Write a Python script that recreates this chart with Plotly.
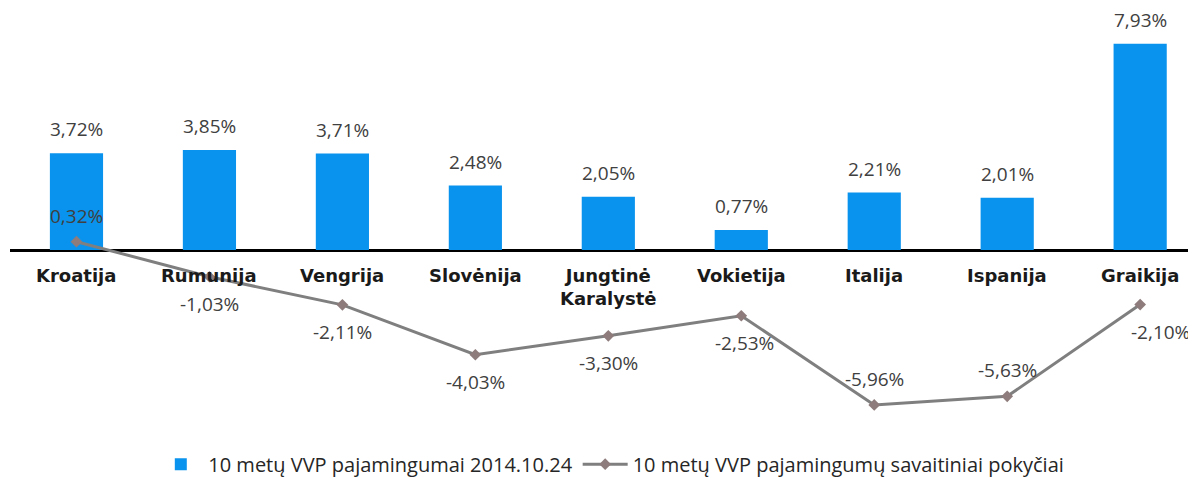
import plotly.graph_objects as go

categories = ["Kroatija", "Rumunija", "Vengrija", "Slovėnija", "Jungtinė<br>Karalystė",
              "Vokietija", "Italija", "Ispanija", "Graikija"]
yields_2014 = [3.72, 3.85, 3.71, 2.48, 2.05, 0.77, 2.21, 2.01, 7.93]
weekly_change = [0.32, -1.03, -2.11, -4.03, -3.30, -2.53, -5.96, -5.63, -2.10]

bar_name = "10 metų VVP pajamingumai 2014.10.24"
line_name = "10 metų VVP pajamingumų savaitiniai pokyčiai"

# label placement for line values (above / below point) and horizontal nudge
line_label_above = [True, False, False, False, False, False, True, True, False]
line_label_xshift = [0, 0, 0, 0, 0, 3, 0, 0, 20]


def fmt(v):
    return f"{v:.2f}".replace(".", ",") + "%"


NUM_FONT = "Open Sans"
fig = go.Figure()
fig.add_trace(go.Bar(
    x=categories, y=yields_2014, name=bar_name,
    marker=dict(color="#0A93EE", line=dict(width=0)),
    width=0.4,
))
fig.add_trace(go.Scatter(
    x=categories, y=weekly_change, name=line_name, mode="lines+markers",
    line=dict(color="#7F7F7F", width=3),
    marker=dict(symbol="diamond", size=9, color="#8E7B7B"),
))

annotations = []
for c, v in zip(categories, yields_2014):
    annotations.append(dict(x=c, y=v, xref="x", yref="y", text=fmt(v), showarrow=False,
                            yanchor="bottom", yshift=10, borderpad=0,
                            font=dict(family=NUM_FONT, size=19, color="#404040")))
for c, v, above, xs in zip(categories, weekly_change, line_label_above, line_label_xshift):
    annotations.append(dict(x=c, y=v, xref="x", yref="y", text=fmt(v), showarrow=False,
                            yanchor="middle", yshift=26 if above else -27, xshift=xs,
                            font=dict(family=NUM_FONT, size=19, color="#404040")))
for c in categories:
    annotations.append(dict(x=c, y=0, xref="x", yref="y", text="<b>" + c + "</b>",
                            showarrow=False, yanchor="top", yshift=-13,
                            font=dict(family="DejaVu Sans", size=18, color="#1A1A1A")))

fig.update_layout(
    width=1188, height=470,
    margin=dict(l=2, r=0, t=0, b=58, autoexpand=False),
    paper_bgcolor="white", plot_bgcolor="white",
    showlegend=True,
    legend=dict(orientation="h", x=0.507, xanchor="center", y=-0.06, yanchor="top",
                font=dict(family=NUM_FONT, size=20, color="#262626"),
                itemwidth=45, tracegroupgap=0),
    annotations=annotations,
    bargap=0.6,
)
fig.update_xaxes(range=[-0.5, 8.42], showticklabels=False, showgrid=False,
                 showline=False, ticks="")
fig.update_yaxes(range=[-6.54, 9.31], showticklabels=False, showgrid=False,
                 zeroline=True, zerolinecolor="black", zerolinewidth=3,
                 showline=False, ticks="")

fig.write_html("out.html")
